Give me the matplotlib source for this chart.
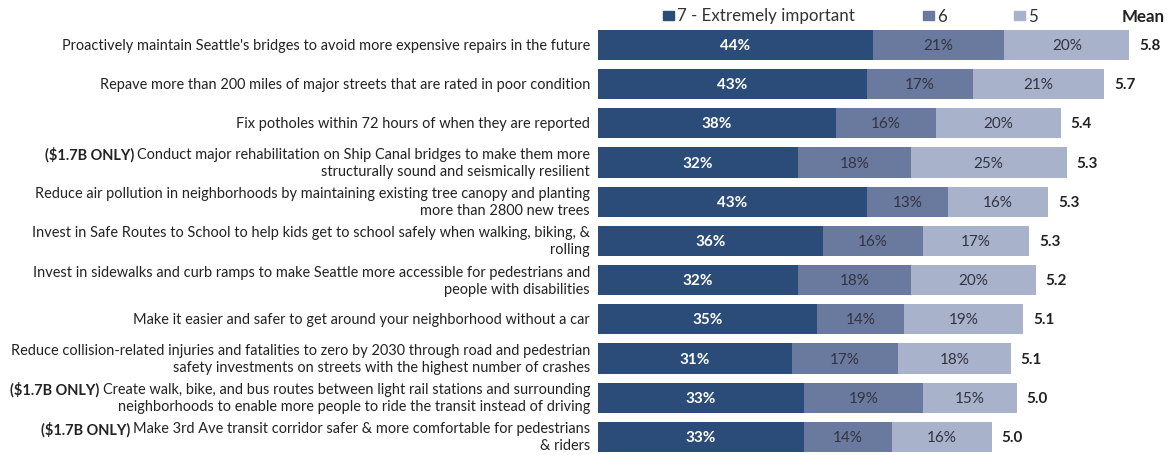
import matplotlib
matplotlib.use('Agg')
import matplotlib.pyplot as plt
from matplotlib.patches import Rectangle

# survey items (bold prefix, first line, second line)
prefixes = ['', '', '', '($1.7B ONLY)', '', '', '', '', '', '($1.7B ONLY)', '($1.7B ONLY)']
line1 = [
    "Proactively maintain Seattle's bridges to avoid more expensive repairs in the future",
    "Repave more than 200 miles of major streets that are rated in poor condition",
    "Fix potholes within 72 hours of when they are reported",
    "Conduct major rehabilitation on Ship Canal bridges to make them more",
    "Reduce air pollution in neighborhoods by maintaining existing tree canopy and planting",
    "Invest in Safe Routes to School to help kids get to school safely when walking, biking, &",
    "Invest in sidewalks and curb ramps to make Seattle more accessible for pedestrians and",
    "Make it easier and safer to get around your neighborhood without a car",
    "Reduce collision-related injuries and fatalities to zero by 2030 through road and pedestrian",
    "Create walk, bike, and bus routes between light rail stations and surrounding",
    "Make 3rd Ave transit corridor safer & more comfortable for pedestrians",
]
line2 = [
    '', '', '',
    "structurally sound and seismically resilient",
    "more than 2800 new trees",
    "rolling",
    "people with disabilities",
    '',
    "safety investments on streets with the highest number of crashes",
    "neighborhoods to enable more people to ride the transit instead of driving",
    "& riders",
]
pct7 = [44, 43, 38, 32, 43, 36, 32, 35, 31, 33, 33]
pct6 = [21, 17, 16, 18, 13, 16, 18, 14, 17, 19, 14]
pct5 = [20, 21, 20, 25, 16, 17, 20, 19, 18, 15, 16]
means = [5.8, 5.7, 5.4, 5.3, 5.3, 5.3, 5.2, 5.1, 5.1, 5.0, 5.0]
series_names = ['7 - Extremely important', '6', '5']

colors = ['#2b4c78', '#6a7a9e', '#a8b2cb']
txt_colors = ['white', '#333340', '#333340']
txt_weights = ['bold', 'normal', 'normal']
FONT = 'Lato'
W, H = 1172, 456

fig = plt.figure(figsize=(W / 100, H / 100), dpi=100)
ax = fig.add_axes([598 / W, 0, 1 - 598 / W, 430 / H])
ax.set_xlim(0, (W - 598) / 6.25)
ax.set_ylim(10.46, -0.51)
ax.axis('off')

rows = list(range(len(pct7)))
left = [0] * len(rows)
for vals, col, tc, tw in zip([pct7, pct6, pct5], colors, txt_colors, txt_weights):
    ax.barh(rows, vals, left=left, height=0.77, color=col, edgecolor='none')
    for r, v, l in zip(rows, vals, left):
        ax.text(l + v / 2, r, f'{v}%', ha='center', va='center', color=tc,
                fontsize=11, fontweight=tw, family=FONT)
    left = [l + v for l, v in zip(left, vals)]

for r, tot, m in zip(rows, left, means):
    ax.text(tot + 1.6, r, f'{m:.1f}', ha='left', va='center', fontsize=11,
            fontweight='bold', family=FONT, color='#222222')

# category labels, right aligned against the bars
fig.canvas.draw()
renderer = fig.canvas.get_renderer()
x_lab = 590 / W
for r in rows:
    p = ax.transData.transform((0, r))[1] / H
    if line2[r]:
        y1, y2 = p + 8.5 / H, p - 8.5 / H
    else:
        y1 = p
    t = fig.text(x_lab, y1, line1[r], ha='right', va='center', fontsize=10.45,
                 family=FONT, color='#222222')
    if prefixes[r]:
        bb = t.get_window_extent(renderer)
        fig.text((bb.x0 - 3) / W, y1, prefixes[r], ha='right', va='center',
                 fontsize=10.45, family=FONT, fontweight='bold', color='#222222')
    if line2[r]:
        fig.text(x_lab, y2, line2[r], ha='right', va='center', fontsize=10.45,
                 family=FONT, color='#222222')

# legend row
leg_y = 1 - 16.5 / H
leg_x = [663, 923, 1014]
for lx, name, col in zip(leg_x, series_names, colors):
    fig.patches.append(Rectangle((lx / W, leg_y - 4.5 / H), 11 / W, 9 / H,
                                 color=col, transform=fig.transFigure))
    fig.text((lx + 14) / W, leg_y, name, ha='left', va='center', fontsize=12.2,
             family=FONT, color='#333333')
fig.text(1165 / W, leg_y, 'Mean', ha='right', va='center', fontsize=12.2,
         fontweight='bold', family=FONT, color='#222222')

fig.savefig('out.png', dpi=100)
